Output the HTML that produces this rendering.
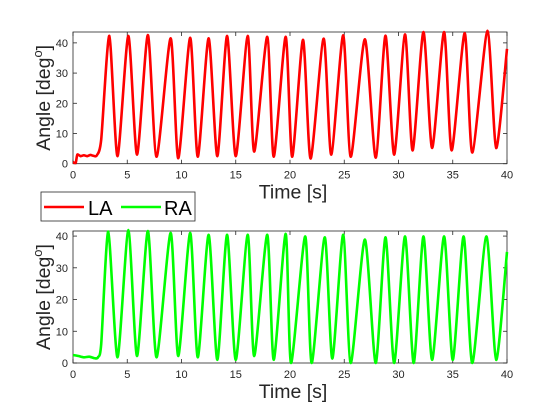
<!DOCTYPE html>
<html><head><meta charset="utf-8"><style>
html,body{margin:0;padding:0;background:#fff}
svg{display:block;font-family:"Liberation Sans",Arial,sans-serif}
</style></head><body>
<svg id="chart" width="560" height="420" viewBox="0 0 560 420"></svg>
<script>
const xTicks=[0,5,10,15,20,25,30,35,40];
const yTicks=[0,10,20,30,40];
const laTime=[0,0.25,0.4,0.7,1.0,1.3,1.6,1.9,2.2,2.6,3.35,4.1,5.1,5.9,6.9,7.7,9.0,9.7,10.8,11.5,12.5,13.3,14.2,15.0,16.1,16.7,17.9,18.5,19.6,20.2,21.2,21.9,23.1,23.8,24.9,25.6,26.9,27.9,28.8,29.6,30.6,31.3,32.3,33.1,34.2,34.9,36.1,36.8,38.2,39.0,40];
const laValue=[0.5,0.3,3,2.5,2.8,2.5,2.9,2.6,2.8,8,42.3,2.5,42.3,3,42.6,2.3,41.5,1.8,41.7,2.3,41.5,2.5,42.3,2.5,42.3,4,42,2.3,42,2.3,41,1.7,41.4,3,42.5,2.3,41.2,2,42.4,3,42.8,4.4,43.6,5.2,43.6,4.4,43.2,3.7,44,5.2,38];
const raTime=[0,0.5,1.0,1.5,2.0,2.3,2.6,3.25,4.1,5.1,5.9,6.9,7.7,9.0,9.7,10.8,11.5,12.5,13.3,14.2,15.0,16.1,16.7,17.9,18.5,19.6,20.1,21.4,22.0,23.2,23.9,24.9,25.6,26.9,27.9,28.8,29.6,30.6,31.4,32.3,33.1,34.2,35.0,36.0,36.8,38.1,39.0,40];
const raValue=[2.5,2.2,1.8,2,1.5,1.8,6,41.4,1.8,41.9,2.2,41.6,1.8,41,2.2,41,1.8,40.4,1,40.4,1,40.4,2.2,40.4,1,40.7,0,39.9,0,39.6,1.4,40.4,0,38.9,0,39.6,0,39.9,0,39.9,1,39.9,1,39.9,0,39.9,1,35];
const NS='http://www.w3.org/2000/svg';
const svg=document.getElementById('chart');
function el(t,a,p){const e=document.createElementNS(NS,t);for(const k in a)e.setAttribute(k,a[k]);(p||svg).appendChild(e);return e;}
const xL=73,xR=507;
function xS(t){return xL+(t-0)/(40-0)*(xR-xL);}
function smooth(pts,top,bottom){let d='M'+pts[0][0].toFixed(2)+','+pts[0][1].toFixed(2);
 const cl=v=>Math.min(Math.max(v,top),bottom);
 for(let i=0;i<pts.length-1;i++){const p0=pts[Math.max(0,i-1)],p1=pts[i],p2=pts[i+1],p3=pts[Math.min(pts.length-1,i+2)];
  const k=0.12;const c1=[p1[0]+(p2[0]-p0[0])*k,cl(p1[1]+(p2[1]-p0[1])*k)];const c2=[p2[0]-(p3[0]-p1[0])*k,cl(p2[1]-(p3[1]-p1[1])*k)];
  c1[0]=Math.min(Math.max(c1[0],p1[0]),p2[0]);c2[0]=Math.min(Math.max(c2[0],p1[0]),p2[0]);
  d+=' C'+c1[0].toFixed(2)+','+c1[1].toFixed(2)+' '+c2[0].toFixed(2)+','+c2[1].toFixed(2)+' '+p2[0].toFixed(2)+','+p2[1].toFixed(2);}
 return d;}
function panel(top,bottom,ymax,times,vals,color,name){
 function yS(v){return bottom-v/ymax*(bottom-top);}
 const g=el('g',{});
 
 
 const r=el('rect',{x:xL,y:top,width:xR-xL,height:bottom-top,fill:'#fff',stroke:'#262626','stroke-width':0.8},g);
 
 
 xTicks.forEach(t=>{const x=xS(t);
  el('line',{x1:x,x2:x,y1:bottom,y2:bottom-4,stroke:'#262626','stroke-width':0.8},g);
  el('line',{x1:x,x2:x,y1:top,y2:top+4,stroke:'#262626','stroke-width':0.8},g);
  const tx=el('text',{x:x,y:bottom+15,'text-anchor':'middle','font-size':11,fill:'#262626'},g);tx.textContent=t;
  
  });
 yTicks.forEach(v=>{const y=yS(v);
  el('line',{x1:xL,x2:xL+4,y1:y,y2:y,stroke:'#262626','stroke-width':0.8},g);
  el('line',{x1:xR,x2:xR-4,y1:y,y2:y,stroke:'#262626','stroke-width':0.8},g);
  const tx=el('text',{x:xL-5,y:y+4,'text-anchor':'end','font-size':11,fill:'#262626'},g);tx.textContent=v;
  
  });
 const pts=times.map((t,i)=>[xS(t),yS(vals[i])]);
 const p=el('path',{d:smooth(pts,top,bottom),fill:'none',stroke:color,'stroke-width':2.6,'stroke-linejoin':'round'},g);
 
 
 const xl=el('text',{x:293,y:bottom+35,'text-anchor':'middle','font-size':19.5,fill:'#262626'},g);xl.textContent='Time [s]';
 
 
 const cy=(top+bottom)/2;
 const yl=el('text',{x:0,y:0,transform:'translate(50,'+cy+') rotate(-90)','text-anchor':'middle','font-size':19.5,fill:'#262626'},g);
 yl.innerHTML='Angle [deg<tspan dy="-8" font-size="13">o</tspan><tspan dy="8">]</tspan>';
 
 
}
panel(32,163.7,43.6,laTime,laValue,'#ff0000','la');
panel(231,363,41.6,raTime,raValue,'#00ff00','ra');
const lg=el('g',{});


el('rect',{x:41,y:192,width:154,height:29,fill:'#fff',stroke:'#262626','stroke-width':0.8},lg);
const l1=el('line',{x1:44,x2:84,y1:207,y2:207,stroke:'#ff0000','stroke-width':2.6},lg);


const t1=el('text',{x:88,y:215,'font-size':20,fill:'#000'},lg);t1.textContent='LA';


const l2=el('line',{x1:121,x2:161,y1:207,y2:207,stroke:'#00ff00','stroke-width':2.6},lg);


const t2=el('text',{x:164,y:215,'font-size':20,fill:'#000'},lg);t2.textContent='RA';


</script>
</body></html>
